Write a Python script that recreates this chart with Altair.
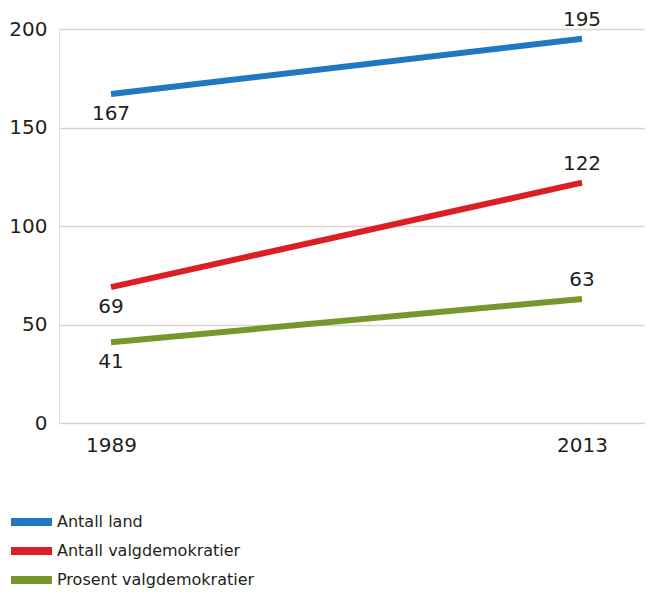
import altair as alt
import pandas as pd

years = [1989, 2013]
series = ["Antall land", "Antall valgdemokratier", "Prosent valgdemokratier"]
values = {
    "Antall land": [167, 195],
    "Antall valgdemokratier": [69, 122],
    "Prosent valgdemokratier": [41, 63],
}
colors = ["#1f78c1", "#dc1f26", "#76972c"]

rows = []
for s in series:
    for y, v in zip(years, values[s]):
        rows.append({"series": s, "year": y, "value": v})
df = pd.DataFrame(rows)

FONT = "DejaVu Sans"
TXT = "#231f20"
FS = 20

x = alt.X("year:Q", scale=alt.Scale(domain=[1986.35, 2016.21], nice=False, zero=False),
          axis=alt.Axis(values=years, format="d", title=None, grid=False, domain=False,
                        ticks=False, labelFontSize=FS, labelPadding=12, labelColor=TXT,
                        labelFont=FONT))
y = alt.Y("value:Q", scale=alt.Scale(domain=[0, 200], nice=False),
          axis=alt.Axis(values=[0, 50, 100, 150, 200], title=None, domain=False, ticks=False,
                        labelFontSize=FS, labelPadding=12, labelColor=TXT, labelFont=FONT,
                        gridColor="#ddd5cc", gridWidth=1.5))
color = alt.Color("series:N", scale=alt.Scale(domain=series, range=colors),
                  legend=alt.Legend(title=None, orient="none", legendX=-52, legendY=483,
                                    symbolType="stroke", symbolSize=1681, symbolStrokeWidth=8,
                                    clipHeight=20, rowPadding=9, labelOffset=1,
                                    labelFontSize=16, labelFont=FONT, labelColor=TXT,
                                    labelLimit=400))

base = alt.Chart(df)
lines = base.mark_line(strokeWidth=6, strokeCap="butt").encode(x=x, y=y, color=color)
lab_start = base.transform_filter(alt.datum.year == 1989).mark_text(
    dy=20, fontSize=FS, font=FONT, color=TXT, baseline="middle").encode(
    x="year:Q", y="value:Q", text="value:Q")
lab_end = base.transform_filter(alt.datum.year == 2013).mark_text(
    dy=-19, fontSize=FS, font=FONT, color=TXT, baseline="middle").encode(
    x="year:Q", y="value:Q", text="value:Q")

chart = alt.layer(lines, lab_start, lab_end).properties(
    width=586, height=394,
    autosize=alt.AutoSizeParams(type="none"),
    padding={"left": 51, "top": 21, "right": 0, "bottom": 166},
).configure_view(stroke=None).configure(background="white")

chart.save("out.html", embed_options={"renderer": "svg", "actions": False})
